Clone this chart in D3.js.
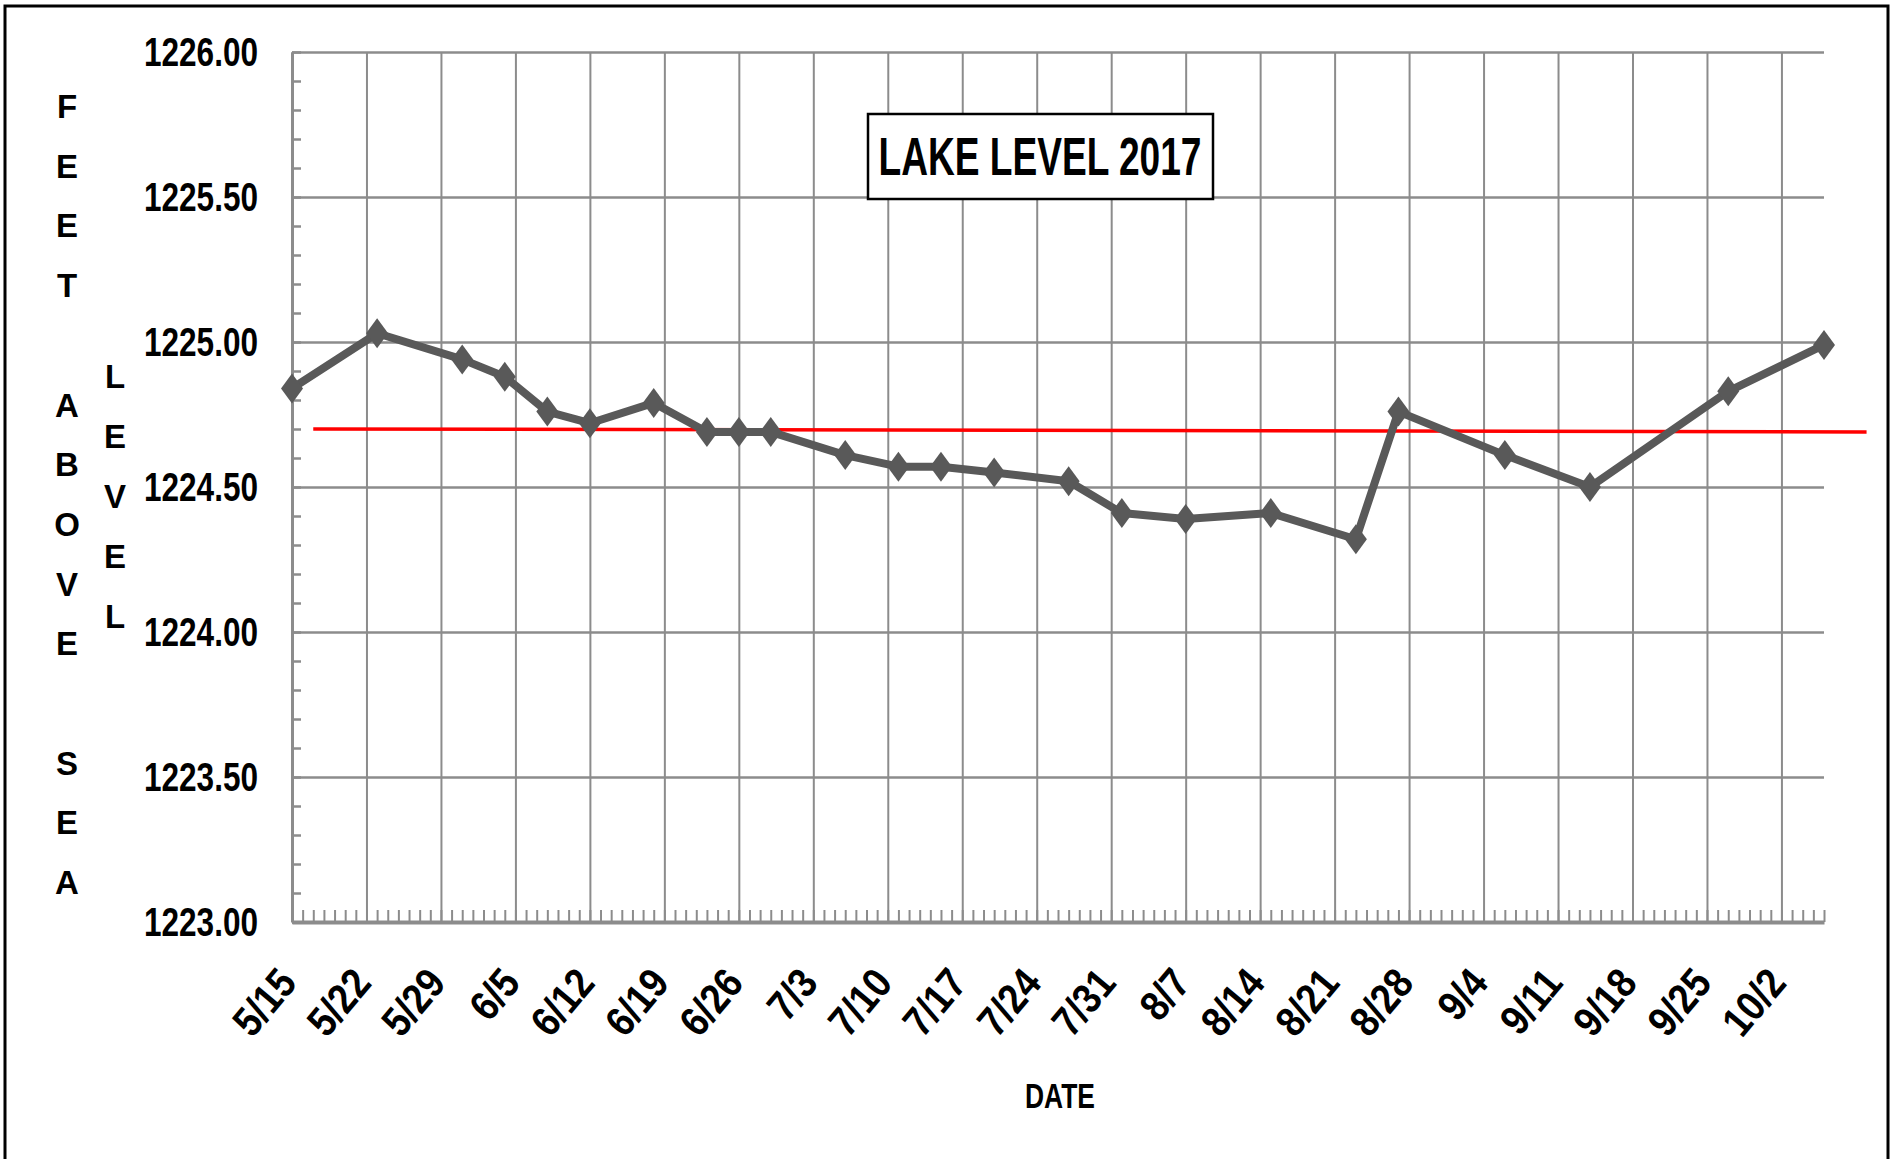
<!DOCTYPE html>
<html>
<head>
<meta charset="utf-8">
<script src="https://cdn.jsdelivr.net/npm/d3@7"></script>
<style>
  body { margin: 0; background: #fff; }
  text { font-family: "Liberation Sans", Arial, sans-serif; font-weight: bold; fill: #000; }
</style>
</head>
<body>
<div class="article"></div>
<script>
// Lake level readings
var readDates = ["5/15", "5/23", "5/31", "6/4", "6/8", "6/12", "6/18", "6/23", "6/26", "6/29",
  "7/6", "7/11", "7/15", "7/20", "7/27", "8/1", "8/7", "8/15", "8/23", "8/27",
  "9/6", "9/14", "9/27", "10/6"];
var lakeLevels = [1224.84, 1225.03, 1224.94, 1224.88, 1224.76, 1224.72, 1224.79, 1224.69, 1224.69, 1224.69,
  1224.61, 1224.57, 1224.57, 1224.55, 1224.52, 1224.41, 1224.39, 1224.41, 1224.32, 1224.76,
  1224.61, 1224.50, 1224.83, 1224.99];

// red reference line (hand drawn in the original, ends a bit past the axis)
var refDates = ["5/17", "10/10"];
var refLevels = [1224.70, 1224.69];

// axis range and labels
var axisStart = "5/15";
var axisEnd = "10/6";
var yTicks = [1223.0, 1223.5, 1224.0, 1224.5, 1225.0, 1225.5, 1226.0];
var chartTitle = "LAKE LEVEL 2017";
var xTitle = "DATE";
var yTitle1 = "FEET ABOVE SEA";
var yTitle2 = "LEVEL";

var svgWidth = 1900;
var svgHeight = 1159;

var margin = {
  top: 52,
  right: 76,
  bottom: 237,
  left: 292
};

var chartWidth = svgWidth - margin.left - margin.right;
var chartHeight = svgHeight - margin.top - margin.bottom;

var parseDay = function(s) {
  var p = s.split("/");
  return new Date(2017, +p[0] - 1, +p[1]);
};

var svg = d3.select(".article")
  .append("svg")
  .attr("width", svgWidth)
  .attr("height", svgHeight);

// outer frame (bottom edge is off the picture)
svg.append("rect")
  .attr("x", 5)
  .attr("y", 6)
  .attr("width", 1883)
  .attr("height", 1200)
  .attr("fill", "#fff")
  .attr("stroke", "#000")
  .attr("stroke-width", 3);

var chartGroup = svg.append("g")
  .attr("transform", `translate(${margin.left}, ${margin.top})`);

var xScale = d3.scaleTime()
  .domain([parseDay(axisStart), parseDay(axisEnd)])
  .range([0, chartWidth]);

var yScale = d3.scaleLinear()
  .domain([d3.min(yTicks), d3.max(yTicks)])
  .range([chartHeight, 0]);

var gridColor = "#8c8c8c";

// horizontal gridlines
chartGroup.append("g")
  .call(d3.axisLeft(yScale).tickValues(yTicks).tickSize(-chartWidth).tickFormat(""))
  .call(g => g.select(".domain").remove())
  .selectAll("line")
  .attr("stroke", gridColor)
  .attr("stroke-width", 2.5);

// vertical gridlines every week
var weeks = d3.timeMonday.range(parseDay(axisStart), d3.timeDay.offset(parseDay(axisEnd), 1));
chartGroup.append("g")
  .attr("transform", `translate(0, ${chartHeight})`)
  .call(d3.axisBottom(xScale).tickValues(weeks).tickSize(chartHeight).tickSizeOuter(0).tickFormat(""))
  .call(g => g.select(".domain").remove())
  .selectAll("line")
  .attr("transform", `translate(0, ${-chartHeight})`)
  .attr("stroke", gridColor)
  .attr("stroke-width", 2);

// y minor ticks (inside)
var yMinor = d3.range(0, 31).map(i => yTicks[0] + i * 0.1);
chartGroup.append("g")
  .call(d3.axisLeft(yScale).tickValues(yMinor).tickSize(-9).tickSizeOuter(0).tickFormat(""))
  .call(g => g.select(".domain").attr("stroke", gridColor).attr("stroke-width", 3))
  .selectAll("line")
  .attr("stroke", gridColor)
  .attr("stroke-width", 2.5);

// y labels (squeezed to look like the narrow original font)
chartGroup.append("g")
  .call(d3.axisLeft(yScale).tickValues(yTicks).tickSize(0).tickPadding(34).tickFormat(d3.format(".2f")))
  .call(g => g.select(".domain").remove())
  .selectAll("text")
  .style("font-size", "41px")
  .attr("textLength", 114)
  .attr("lengthAdjust", "spacingAndGlyphs");

// x minor ticks every day (inside)
var days = d3.timeDay.range(parseDay(axisStart), d3.timeDay.offset(parseDay(axisEnd), 1));
chartGroup.append("g")
  .attr("transform", `translate(0, ${chartHeight})`)
  .call(d3.axisBottom(xScale).tickValues(days).tickSize(-12).tickSizeOuter(0).tickFormat(""))
  .call(g => g.select(".domain").attr("stroke", gridColor).attr("stroke-width", 4))
  .selectAll("line")
  .attr("stroke", gridColor)
  .attr("stroke-width", 2);

// x labels, rotated
var xAxis = chartGroup.append("g")
  .attr("transform", `translate(0, ${chartHeight})`)
  .call(d3.axisBottom(xScale).tickValues(weeks).tickSize(0).tickFormat(d3.timeFormat("%-m/%-d")));
xAxis.select(".domain").remove();
xAxis.selectAll("text")
  .style("font-size", "42px")
  .attr("text-anchor", "end")
  .attr("dy", 0)
  .attr("y", 0)
  .attr("transform", "translate(6, 62) rotate(-50) scale(0.88, 1)");

// red reference line
var refData = refDates.map((d, i) => ({ date: parseDay(d), level: refLevels[i] }));
chartGroup.append("path")
  .attr("d", d3.line().x(d => xScale(d.date)).y(d => yScale(d.level))(refData))
  .attr("fill", "none")
  .attr("stroke", "#ff0000")
  .attr("stroke-width", 3.5);

// lake level line
var levelData = readDates.map((d, i) => ({ date: parseDay(d), level: lakeLevels[i] }));
var drawLine = d3.line()
  .x(d => xScale(d.date))
  .y(d => yScale(d.level));

chartGroup.append("path")
  .attr("d", drawLine(levelData))
  .attr("fill", "none")
  .attr("stroke", "#595959")
  .attr("stroke-width", 8)
  .attr("stroke-linejoin", "round");

// diamond markers
chartGroup.selectAll(".marker")
  .data(levelData)
  .enter()
  .append("path")
  .attr("class", "marker")
  .attr("d", "M0,-15L11,0L0,15L-11,0Z")
  .attr("transform", d => `translate(${xScale(d.date)}, ${yScale(d.level)})`)
  .attr("fill", "#595959");

// title box
var titleBox = svg.append("g");
titleBox.append("rect")
  .attr("x", 868)
  .attr("y", 114)
  .attr("width", 345)
  .attr("height", 85)
  .attr("fill", "#fff")
  .attr("stroke", "#000")
  .attr("stroke-width", 2.5);
titleBox.append("text")
  .attr("x", 1040)
  .attr("y", 175)
  .attr("text-anchor", "middle")
  .attr("textLength", 323)
  .attr("lengthAdjust", "spacingAndGlyphs")
  .style("font-size", "53px")
  .text(chartTitle);

// x axis title
svg.append("text")
  .attr("x", 1060)
  .attr("y", 1108)
  .attr("text-anchor", "middle")
  .attr("textLength", 70)
  .attr("lengthAdjust", "spacingAndGlyphs")
  .style("font-size", "35px")
  .text(xTitle);

// y axis titles, one letter per line
svg.append("g").selectAll("text")
  .data(yTitle1.split(""))
  .enter()
  .append("text")
  .attr("x", 67)
  .attr("y", (d, i) => 118 + i * 59.7)
  .attr("text-anchor", "middle")
  .style("font-size", "33px")
  .text(d => d);

svg.append("g").selectAll("text")
  .data(yTitle2.split(""))
  .enter()
  .append("text")
  .attr("x", 115)
  .attr("y", (d, i) => 388 + i * 60)
  .attr("text-anchor", "middle")
  .style("font-size", "33px")
  .text(d => d);
</script>
</body>
</html>
